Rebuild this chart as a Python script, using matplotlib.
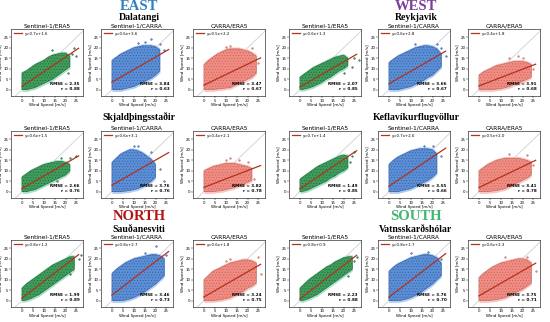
import numpy as np
import matplotlib
matplotlib.use("Agg")
import matplotlib.pyplot as plt

plt.rcParams["hatch.linewidth"] = 0.35

# station order: Dalatangi, Reykjavik, Skjaldþingsstaðir, Keflavíkurflugvöllur, Sauðanesviti, Vatnsskarðshólar
stations = ["Dalatangi", "Reykjavik", "Skjaldþingsstaðir", "Keflavíkurflugvöllur",
            "Sauðanesviti", "Vatnsskarðshólar"]
regions = ["EAST", "WEST", "", "", "NORTH", "SOUTH"]
region_colors = ["#2f7fc1", "#7a3d9a", "k", "k", "#b01515", "#3fb56f"]
pairs = ["Sentinel-1/ERA5", "Sentinel-1/CARRA", "CARRA/ERA5"]

# fit values read from the legends / text boxes (station x pair)
slopes = [[0.7, 0.6, 0.5], [0.6, 0.6, 0.4], [0.6, 0.6, 0.4],
          [0.7, 0.7, 0.5], [0.8, 0.8, 0.6], [0.8, 0.8, 0.6]]
intercepts = [[1.6, 3.6, 2.2], [1.3, 2.8, 1.8], [1.5, 3.1, 2.1],
              [1.4, 2.6, 2.0], [1.2, 2.7, 1.8], [0.9, 1.7, 2.3]]
rmse = [[2.35, 3.84, 3.47], [2.07, 3.66, 3.91], [2.66, 3.76, 3.82],
        [1.49, 3.55, 3.41], [1.99, 3.46, 3.24], [2.23, 3.76, 3.75]]
r_vals = [[0.88, 0.63, 0.67], [0.85, 0.67, 0.68], [0.76, 0.76, 0.78],
          [0.85, 0.66, 0.78], [0.89, 0.73, 0.75], [0.88, 0.70, 0.71]]

# approximate extent of the dense point clouds (lower / upper edge at cloud_x)
nan = np.nan
cloud_x = [0, 2, 4, 6, 8, 10, 12, 14, 16, 18, 20, 22, 24]
cloud_lo = [
    [0, 0, 0.5, 1, 2, 3, 4, 5, 6.5, 8, 9.5, 11, nan],
    [0, 0, 0, 0.5, 1, 1.5, 2.5, 3.5, 4.5, 5.5, 7, 9, nan],
    [0, 0, 0, 0.3, 0.5, 0.8, 1, 2, 3, 4, 5, 6, 8],
    [0, 0.3, 0.8, 1.5, 2.5, 3.5, 5, 6, 7.5, 9, 10, 11.5, nan],
    [0, 0, 0, 0.5, 1, 1.5, 2.5, 3.5, 4.5, 6, 7, 9, 11],
    [0, 0, 0, 0, 0.3, 0.5, 1, 1.5, 2.5, 3, 4, 5, 6],
    [0, 0, 0.5, 1, 2, 3, 4, 5, 6, 7, 8, 10, nan],
    [0, 0, 0, 0.3, 0.5, 1, 1.5, 2.5, 3.5, 5, 7, nan, nan],
    [0, 0, 0, 0.3, 0.5, 1, 1.5, 2, 3, 3.5, 4.5, 5.5, nan],
    [0, 0.3, 1, 2, 3, 4, 5, 6.5, 7.5, 9, 10, 11.5, nan],
    [0, 0, 0, 0.5, 1, 1.5, 2.5, 3.5, 4.5, 5.5, 7, 9, nan],
    [0, 0, 0, 0.3, 0.5, 1, 1.5, 2.5, 3.5, 4.5, 5.5, 6.5, 8],
    [0, 0.3, 1, 2, 3, 4.5, 6, 7.5, 9, 10.5, 12, 13.5, 15],
    [0, 0, 0, 0.3, 0.8, 1.5, 2.5, 3.5, 5, 6.5, 8, 10, 12],
    [0, 0, 0, 0.3, 0.5, 1, 1.5, 2.5, 3.5, 4.5, 6, 7, 8.5],
    [0, 0.3, 1, 2, 3, 4.5, 6, 7.5, 9, 10.5, 12, 13.5, 15],
    [0, 0, 0, 0.3, 0.8, 1.5, 2.5, 3.5, 5, 6.5, 8, 10, 12],
    [0, 0, 0, 0.3, 0.5, 1, 1.5, 2.5, 3.5, 4.5, 5.5, 7, 8.5],
]
cloud_hi = [
    [8, 9, 10.5, 12, 13, 14, 15.5, 16.5, 17, 17.5, 17.5, 16, nan],
    [14, 15.5, 17, 18, 19, 20, 20.5, 21, 21, 21, 20.5, 19, nan],
    [12, 14, 15.5, 17, 18, 19, 19.5, 19.5, 19.5, 19, 18.5, 17.5, 16],
    [6, 7.5, 9, 10.5, 11.5, 12.5, 13.5, 14.5, 15.5, 16, 16.5, 15, nan],
    [13, 14.5, 16, 17, 18, 19, 20, 20.5, 21, 21, 20.5, 19.5, 17],
    [7, 8.5, 9.5, 10.5, 11.5, 12, 12.5, 13, 13.5, 13.5, 13.5, 13, 12],
    [7, 8.5, 10, 11, 12, 13, 13.5, 14, 14.5, 14.5, 14, 13, nan],
    [14, 16, 18, 19, 20, 20, 19.5, 18.5, 17, 15.5, 13, nan, nan],
    [10, 11, 12, 12.5, 13, 13.5, 13.5, 13.5, 13, 12.5, 12, 11, nan],
    [6, 7.5, 9, 10.5, 12, 13, 14, 15, 16, 17, 17.5, 17, nan],
    [13, 15, 16.5, 17.5, 18.5, 19.5, 20, 20.5, 20.5, 20.5, 20, 18, nan],
    [10, 11.5, 13, 14, 15, 15.5, 16, 16, 16, 16, 15.5, 15, 14],
    [6, 8, 9.5, 11, 12.5, 14, 15.5, 17, 18, 19, 20, 21, 21],
    [13, 15, 16.5, 18, 19, 20, 20.5, 21, 21.5, 22, 22, 21.5, 20],
    [10, 12, 14, 15, 16, 17, 18, 18.5, 19, 19.5, 19.5, 19, 18],
    [6, 8, 10, 11.5, 13, 14.5, 16, 17, 18.5, 19.5, 20.5, 21, 21],
    [14, 16, 17.5, 18.5, 19.5, 20.5, 21, 21.5, 22, 22, 21.5, 20.5, 18],
    [11, 13, 14.5, 16, 17, 18, 18.5, 19, 19.5, 20, 20, 19.5, 18],
]
# scattered points outside the dense clouds
out_x = [[23, 25, 21, 14, 24], [15, 18, 12, 24, 22], [12, 22, 25, 10],
         [24, 25, 27, 20], [26, 22, 24, 12], [14, 20, 25, 18],
         [18, 22, 25, 16], [10, 12, 18, 22, 24], [10, 16, 20, 23, 12],
         [24, 25, 23], [16, 20, 24], [22, 25, 14],
         [26, 27, 22], [20, 25, 15], [25, 26, 10, 12],
         [26, 25, 22], [10, 18, 24], [12, 22, 26]]
out_y = [[17, 16, 8, 19, 20], [23, 24, 22.5, 19, 22], [21, 20, 13, 20.5],
         [11, 15, 14, 8], [16, 22, 20, 22], [15, 15, 10, 16],
         [16, 16, 17, 5], [22, 22, 19, 11, 5], [15, 15, 14, 6, 16],
         [17, 19, 14], [22, 22, 17], [17.5, 13, 18],
         [20, 22, 13], [26, 22, 23], [21, 13, 19, 20],
         [21, 19, 12], [23, 23.5, 20], [21, 21, 14]]

face_colors = ["#3f9d5c", "#5b8fd6", "#f28b82"]
edge_colors = ["#24613a", "#35599c", "#b9675f"]
fringe_colors = ["#a6e0c6", "#b0ccf2", "#f9c6c0"]

fig = plt.figure(figsize=(5.5, 3.22), dpi=100)
W, H = 550.0, 322.0
col_left = [11, 101, 193, 289, 378, 468]
row_top = [29, 131, 240]
aw, ah = 72, 67

for s in range(6):
    row = s // 2
    for p in range(3):
        col = (s % 2) * 3 + p
        k = s * 3 + p
        ax = fig.add_axes([col_left[col] / W, 1 - (row_top[row] + ah) / H, aw / W, ah / H])
        ax.plot([-5, 29], [-5, 29], color="#cfcfcf", lw=0.6, zorder=1)
        lo = np.array(cloud_lo[k])
        hi = np.array(cloud_hi[k])
        # light halo of sparse points, then the dense core
        ax.fill_between(cloud_x, lo - 0.8, hi + 0.9, color=fringe_colors[p], lw=0, zorder=2)
        ax.fill_between(cloud_x, lo, hi, facecolor=face_colors[p], edgecolor=edge_colors[p],
                        hatch="......", lw=0.4, zorder=3)
        ax.scatter(out_x[k], out_y[k], s=1.5, c=face_colors[p], edgecolors=edge_colors[p],
                   linewidths=0.3, zorder=4)
        a, b = slopes[s][p], intercepts[s][p]
        xl = np.array([0, 26])
        ax.plot(xl, a * xl + b, color="#b2321e", lw=0.9, zorder=5,
                label="y=%.1fx+%.1f" % (a, b))
        ax.legend(loc="upper left", fontsize=2.8, frameon=False, handlelength=2.2,
                  borderaxespad=0.3)
        ax.text(0.95, 0.07, "RMSE = %.2f\nr = %.2f" % (rmse[s][p], r_vals[s][p]),
                transform=ax.transAxes, ha="right", va="bottom", fontsize=3,
                fontweight="bold", linespacing=1.3)
        ax.set_xlim(-5, 28)
        ax.set_ylim(-3, 29)
        ax.set_xticks([0, 5, 10, 15, 20, 25])
        ax.set_yticks([0, 5, 10, 15, 20, 25])
        ax.tick_params(labelsize=2.8, length=1.2, width=0.3, pad=0.6)
        for sp in ax.spines.values():
            sp.set_linewidth(0.4)
        ax.set_xlabel("Wind Speed [m/s]", fontsize=3, labelpad=0.6)
        ax.set_ylabel("Wind Speed [m/s]", fontsize=3, labelpad=0.4)
        ax.set_title(pairs[p], fontsize=4.2, pad=1.2)

# region and station headings
head_x = [139, 416]
region_y = [7, None, 217]
station_y = [18, 117, 229]
for s in range(6):
    row = s // 2
    x = head_x[s % 2] / W
    if regions[s]:
        fig.text(x, 1 - region_y[row] / H, regions[s], ha="center", va="center",
                 fontsize=10.5, fontweight="bold", family="Liberation Serif",
                 color=region_colors[s])
    fig.text(x, 1 - station_y[row] / H, stations[s], ha="center", va="center",
             fontsize=7, fontweight="bold", family="Liberation Serif")

fig.savefig("out.png", dpi=100)
